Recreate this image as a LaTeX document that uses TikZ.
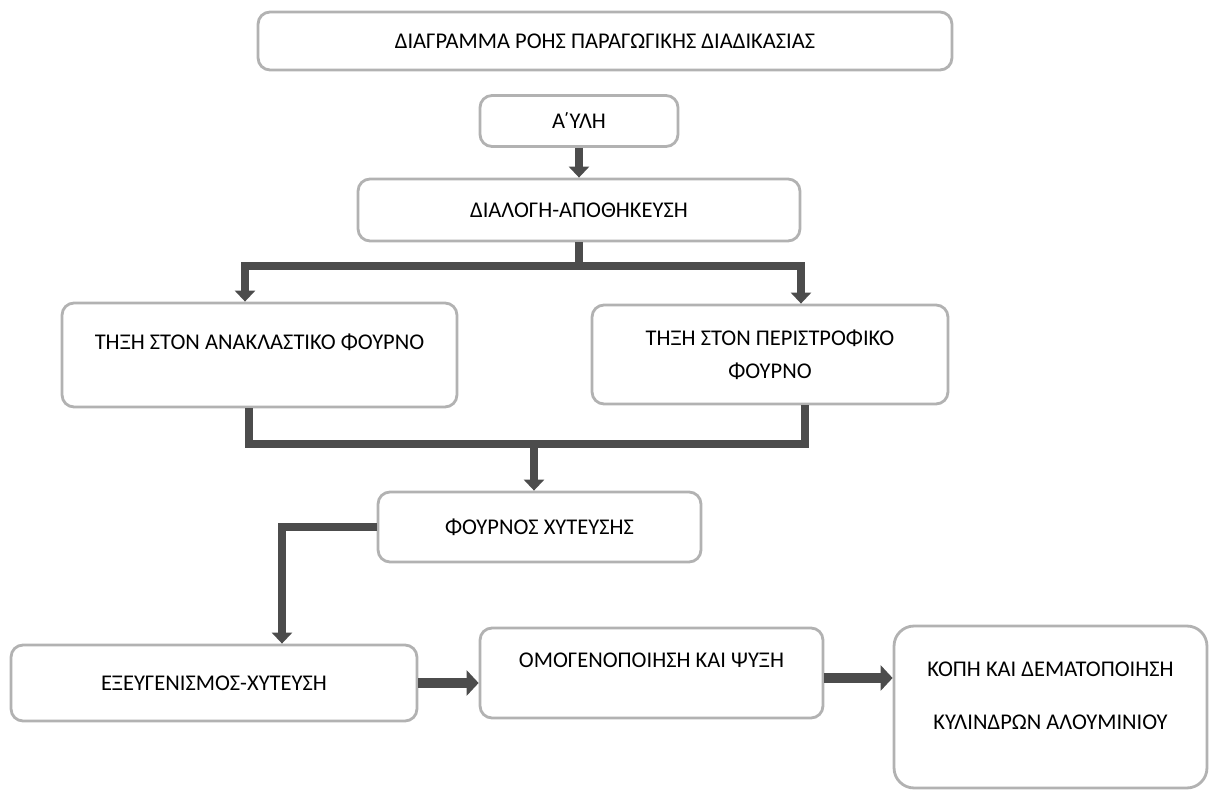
\documentclass[tikz,border=0pt]{standalone}
\usepackage{fontspec}
\setmainfont{Carlito}
\usetikzlibrary{arrows.meta}

\begin{document}
\begin{tikzpicture}[x=0.02cm, y=-0.02cm,
    every node/.style={font=\fontsize{12.8}{16}\selectfont},
    box/.style={draw=gray!60, line width=1.6pt, rounded corners=0.24cm, fill=white, inner sep=0pt},
    pipe/.style={draw=black!70, line width=4pt},
    flow/.style={pipe, -{Triangle[length=0.22cm, width=0.4cm]}},
    wideflow/.style={draw=black!70, line width=5.5pt, -{Triangle[length=0.24cm, width=0.5cm]}}]

    \useasboundingbox (0,0) rectangle (1211,790);

    % Title
    \node[box, minimum width=13.88cm, minimum height=1.16cm] (title) at (605,41)
    {ΔΙΑΓΡΑΜΜΑ ΡΟΗΣ ΠΑΡΑΓΩΓΙΚΗΣ ΔΙΑΔΙΚΑΣΙΑΣ};

    % Raw material and sorting
    \node[box, minimum width=3.96cm, minimum height=1.02cm] (aili) at (579,121) {Α\kern-1.5pt΄ΥΛΗ};
    \node[box, minimum width=8.84cm, minimum height=1.24cm] (dialogi) at (579,210)
    {ΔΙΑΛΟΓΗ-ΑΠΟΘΗΚΕΥΣΗ};

    % Melting furnaces
    \node[box, minimum width=7.9cm, minimum height=2.08cm] (melt1) at (259.5,355) {};
    \node (melt1txt) at (259.5,342) {ΤΗΞΗ ΣΤΟΝ ΑΝΑΚΛΑΣΤΙΚΟ ΦΟΥΡΝΟ};
    \node[box, minimum width=7.12cm, minimum height=1.98cm, align=center,
      font=\fontsize{12.8}{19}\selectfont] (melt2) at (770,354.5)
    {ΤΗΞΗ ΣΤΟΝ ΠΕΡΙΣΤΡΟΦΙΚΟ\\ΦΟΥΡΝΟ};

    % Casting furnace
    \node[box, minimum width=6.46cm, minimum height=1.4cm] (cast) at (539.5,527)
    {ΦΟΥΡΝΟΣ ΧΥΤΕΥΣΗΣ};

    % Bottom row
    \node[box, minimum width=8.12cm, minimum height=1.52cm] (refine) at (214,683)
    {ΕΞΕΥΓΕΝΙΣΜΟΣ-ΧΥΤΕΥΣΗ};
    \node[box, minimum width=6.86cm, minimum height=1.8cm] (homog) at (651.5,673) {};
    \node (homogtxt) at (651.5,660) {ΟΜΟΓΕΝΟΠΟΙΗΣΗ ΚΑΙ ΨΥΞΗ};
    \node[box, rounded corners=0.4cm, minimum width=6.26cm, minimum height=3.24cm] (cut)
    at (1050.5,707) {};
    \node[align=center, font=\fontsize{12.8}{30}\selectfont] (cuttxt) at (1050.5,696)
    {ΚΟΠΗ ΚΑΙ ΔΕΜΑΤΟΠΟΙΗΣΗ\\ΚΥΛΙΝΔΡΩΝ ΑΛΟΥΜΙΝΙΟΥ};

    % Flow lines
    \coordinate (split) at (579,266);
    \coordinate (merge) at (534,444);
    \draw[flow] (aili) -- (dialogi);
    \draw[pipe] (dialogi.south) -- (split);
    \draw[flow] (split) -| ([xshift=-0.29cm]melt1.north);
    \draw[flow] (split) -| ([xshift=0.62cm]melt2.north);
    \draw[pipe] ([xshift=-0.21cm]melt1.south) |- (merge) -| ([xshift=0.7cm]melt2.south);
    \draw[flow] (merge) -- (merge |- cast.north);
    \draw[flow] (cast.west) -| ([xshift=1.36cm]refine.north);
    \draw[wideflow] (refine.east) -- (refine.east -| homog.west);
    \draw[wideflow] ([yshift=-0.1cm]homog.east) -- ([yshift=-0.1cm]homog.east -| cut.west);
\end{tikzpicture}
\end{document}
